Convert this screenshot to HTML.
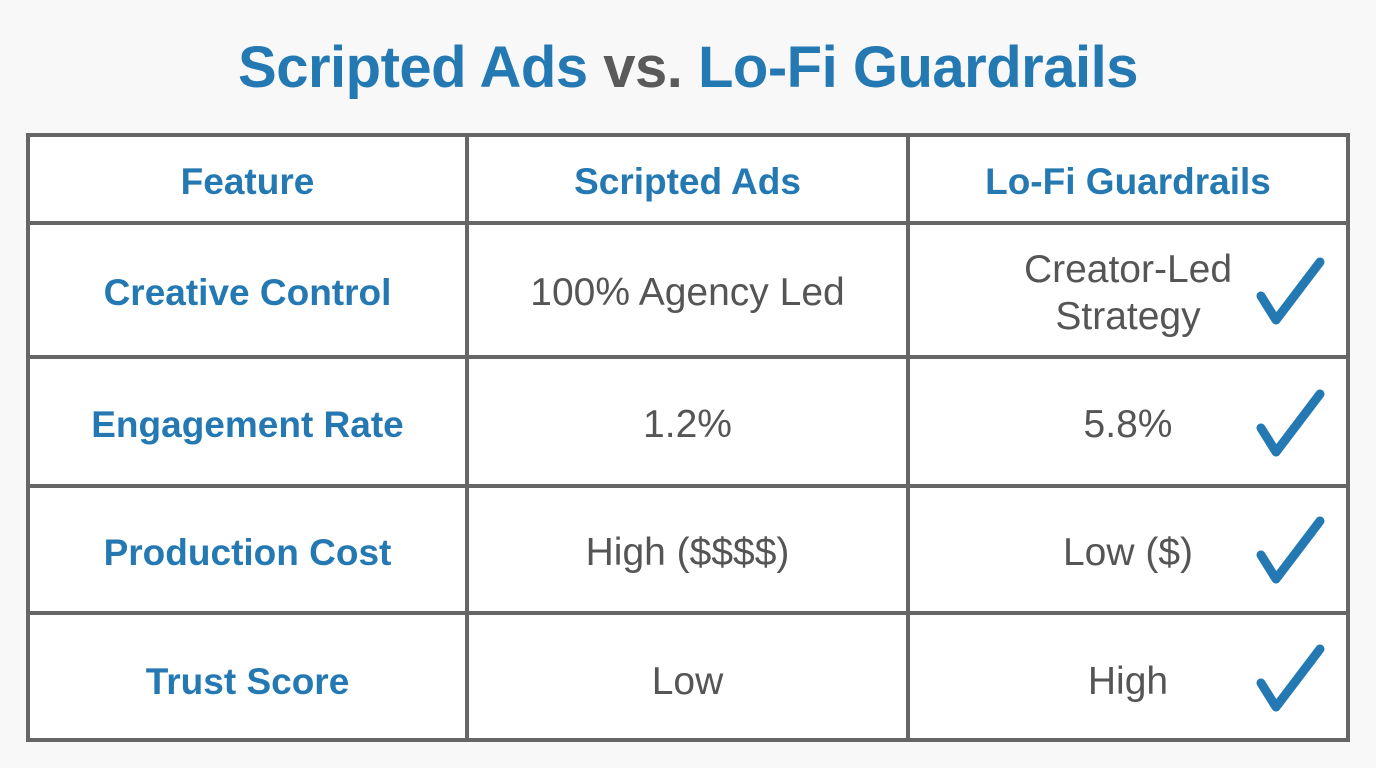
<!DOCTYPE html>
<html><head><meta charset="utf-8"><style>
body{margin:0;width:1376px;height:768px;background:#f8f8f8;font-family:"Liberation Sans",sans-serif;position:relative;overflow:hidden}
.t{position:absolute;left:0;width:1376px;top:34px;text-align:center;font-size:58px;font-weight:bold;color:#2479b3;letter-spacing:-0.5px}
.t span{color:#5a5a5a}
.tbl{position:absolute;left:26px;top:133px;width:1316px;height:601px;border:4px solid #666;background:#fff}
.h{position:absolute;background:#666;height:4px;left:26px;width:1324px}
.v{position:absolute;background:#666;width:4px;top:133px;height:609px}
.c{position:absolute;display:flex;align-items:center;justify-content:center;text-align:center;font-size:39px;color:#555;line-height:47px;padding-top:5px;box-sizing:border-box}
.b{font-weight:bold;color:#2479b3;font-size:37px}
svg{position:absolute}
</style></head><body>
<div class="t">Scripted Ads <span>vs.</span> Lo-Fi Guardrails</div>
<div class="tbl"></div>
<div class="h" style="top:221px"></div>
<div class="h" style="top:355px"></div>
<div class="h" style="top:484px"></div>
<div class="h" style="top:611px"></div>
<div class="v" style="left:465px"></div>
<div class="v" style="left:906px"></div>

<div class="c b" style="left:30px;width:435px;top:137px;height:84px">Feature</div>
<div class="c b" style="left:469px;width:437px;top:137px;height:84px">Scripted Ads</div>
<div class="c b" style="left:910px;width:436px;top:137px;height:84px">Lo-Fi Guardrails</div>

<div class="c b" style="left:30px;width:435px;top:225px;height:130px">Creative Control</div>
<div class="c" style="left:469px;width:437px;top:225px;height:130px">100% Agency Led</div>
<div class="c" style="left:910px;width:436px;top:225px;height:130px">Creator-Led<br>Strategy</div>

<div class="c b" style="left:30px;width:435px;top:359px;height:125px">Engagement Rate</div>
<div class="c" style="left:469px;width:437px;top:359px;height:125px">1.2%</div>
<div class="c" style="left:910px;width:436px;top:359px;height:125px">5.8%</div>

<div class="c b" style="left:30px;width:435px;top:488px;height:123px">Production Cost</div>
<div class="c" style="left:469px;width:437px;top:488px;height:123px">High ($$$$)</div>
<div class="c" style="left:910px;width:436px;top:488px;height:123px">Low ($)</div>

<div class="c b" style="left:30px;width:435px;top:615px;height:127px">Trust Score</div>
<div class="c" style="left:469px;width:437px;top:615px;height:127px">Low</div>
<div class="c" style="left:910px;width:436px;top:615px;height:127px">High</div>

<svg width="1376" height="768" style="left:0;top:0">
<g fill="none" stroke="#2479b3" stroke-width="9" stroke-linecap="round" stroke-linejoin="round">
<path d="M1261 296 L1276 320 L1320 262"/>
<path d="M1261 428 L1276 452 L1320 394"/>
<path d="M1261 555 L1276 579 L1320 521"/>
<path d="M1261 683 L1276 707 L1320 649"/>
</g></svg>
</body></html>
